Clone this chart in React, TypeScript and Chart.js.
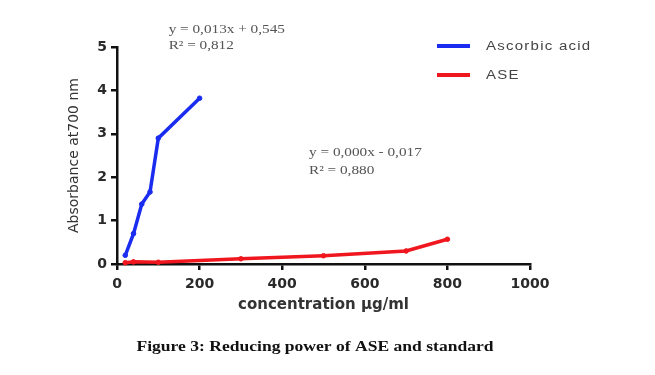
import React, { useEffect, useRef } from "react";
import { Chart, registerables } from "chart.js";

Chart.register(...registerables);

const seriesNames = ["Ascorbic acid", "ASE"];
const ascorbicX = [20, 40, 60, 80, 100, 200];
const ascorbicY = [0.2, 0.7, 1.38, 1.66, 2.9, 3.82];
const aseX = [20, 40, 100, 300, 500, 700, 800];
const aseY = [0.03, 0.05, 0.04, 0.12, 0.19, 0.3, 0.57];
const xTicksMax = 1000;
const yTicksMax = 5;
const xTitle = "concentration µg/ml";
const yTitle = "Absorbance at700 nm";
const eqAscorbic = ["y = 0,013x + 0,545", "R² = 0,812"];
const eqAse = ["y = 0,000x - 0,017", "R² = 0,880"];
const caption = "Figure 3: Reducing power of ASE and standard";
const colors = ["#1a2cf0", "#f0161e"];

function stretchedText(ctx: CanvasRenderingContext2D, text: string, x: number, y: number, sx: number, align: "left" | "center") {
  ctx.save();
  ctx.translate(x, y);
  ctx.scale(sx, 1);
  ctx.textAlign = align;
  ctx.fillText(text, 0, 0);
  ctx.restore();
}

const overlayPlugin = {
  id: "overlay",
  afterDraw(chart: any) {
    const ctx = chart.ctx as CanvasRenderingContext2D;
    const xs = chart.scales.x;
    const ys = chart.scales.y;
    ctx.save();
    ctx.font = "12px 'Liberation Serif'";
    ctx.fillStyle = "#555";
    ctx.textBaseline = "middle";
    const e1x = xs.getPixelForValue(125);
    const e1y = ys.getPixelForValue(5.4);
    stretchedText(ctx, eqAscorbic[0], e1x, e1y, 1.27, "left");
    stretchedText(ctx, eqAscorbic[1], e1x, e1y + 16, 1.27, "left");
    const e2x = xs.getPixelForValue(465);
    const e2y = ys.getPixelForValue(2.55);
    stretchedText(ctx, eqAse[0], e2x, e2y, 1.27, "left");
    stretchedText(ctx, eqAse[1], e2x, e2y + 18, 1.27, "left");

    // legend
    const lx = 437;
    const ly = [46, 75];
    chart.data.datasets.forEach((ds: any, i: number) => {
      ctx.strokeStyle = ds.borderColor;
      ctx.lineWidth = 4;
      ctx.beginPath();
      ctx.moveTo(lx, ly[i]);
      ctx.lineTo(lx + 33, ly[i]);
      ctx.stroke();
      ctx.font = "12px 'Liberation Sans'";
      (ctx as any).letterSpacing = "1px";
      ctx.fillStyle = "#444";
      stretchedText(ctx, ds.label, lx + 49, ly[i] + 1, 1.25, "left");
      (ctx as any).letterSpacing = "0px";
    });

    // caption
    ctx.font = "bold 15px 'Liberation Serif'";
    ctx.fillStyle = "#111";
    stretchedText(ctx, caption, 315, 347, 1.17, "center");
    ctx.restore();
  },
};

export default function App() {
  const ref = useRef<HTMLCanvasElement | null>(null);
  useEffect(() => {
    if (!ref.current) return;
    const tickFont = { family: "'DejaVu Sans'", size: 14, weight: "bold" as const };
    const chart = new Chart(ref.current, {
      type: "line",
      data: {
        datasets: [
          {
            label: seriesNames[0],
            data: ascorbicX.map((x, i) => ({ x, y: ascorbicY[i] })),
            borderColor: colors[0],
            backgroundColor: colors[0],
            borderWidth: 3.5,
            pointRadius: 2.3,
            pointBorderWidth: 1,
            tension: 0,
          },
          {
            label: seriesNames[1],
            data: aseX.map((x, i) => ({ x, y: aseY[i] })),
            borderColor: colors[1],
            backgroundColor: colors[1],
            borderWidth: 3.5,
            pointRadius: 2.3,
            pointBorderWidth: 1,
            tension: 0,
          },
        ],
      },
      options: {
        responsive: false,
        animation: false,
        clip: false as any,
        layout: { padding: { left: 57, right: 125, top: 47, bottom: 61 } },
        plugins: { legend: { display: false }, tooltip: { enabled: false } },
        scales: {
          x: {
            type: "linear",
            min: 0,
            max: xTicksMax,
            afterFit: (s: any) => { s.height = 50; },
            ticks: {
              stepSize: 200,
              color: "#2a2a2a",
              font: tickFont,
              padding: 6,
              maxRotation: 0,
              callback: (v: any) => String(v),
            },
            grid: { drawOnChartArea: false, drawTicks: true, tickLength: 6, color: "#111", lineWidth: 2.5 },
            border: { display: true, color: "#111", width: 2.5 },
            title: {
              display: true,
              text: xTitle,
              color: "#333",
              font: { family: "'DejaVu Sans'", size: 15, weight: "bold" },
              padding: { top: 0, bottom: 0 },
            },
          },
          y: {
            type: "linear",
            min: 0,
            max: yTicksMax,
            afterFit: (s: any) => { s.width = 60; },
            ticks: {
              stepSize: 1,
              color: "#2a2a2a",
              font: tickFont,
              padding: 4,
              callback: (v: any) => String(v),
            },
            grid: { drawOnChartArea: false, drawTicks: true, tickLength: 6, color: "#111", lineWidth: 2.5 },
            border: { display: true, color: "#111", width: 2.5 },
            title: {
              display: true,
              text: yTitle,
              color: "#333",
              font: { family: "'DejaVu Sans'", size: 14 },
              padding: { top: 9, bottom: 0 },
            },
          },
        },
      },
      plugins: [overlayPlugin],
    });
    return () => chart.destroy();
  }, []);
  return (
    <div style={{ position: "fixed", left: 0, top: 0, width: 655, height: 375, background: "#fff" }}>
      <canvas ref={ref} width={655} height={375} style={{ width: 655, height: 375, display: "block" }} />
    </div>
  );
}
